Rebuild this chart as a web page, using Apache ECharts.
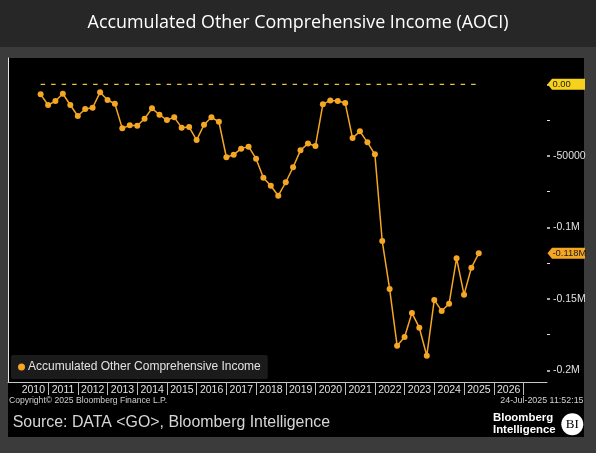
<!DOCTYPE html>
<html>
<head>
<meta charset="utf-8">
<script src="https://cdn.jsdelivr.net/npm/echarts@6/dist/echarts.min.js"></script>
<style>
html,body{margin:0;padding:0;background:#3b3b3b;}
#chart{width:596px;height:453px;}
</style>
</head>
<body>
<div id="chart"></div>
<script>
// ---- data ----
const titleText = 'Accumulated Other Comprehensive Income (AOCI)';
const seriesName = 'Accumulated Other Comprehensive Income';
const quarters = [
  '2010-09-30','2010-12-31',
  '2011-03-31','2011-06-30','2011-09-30','2011-12-31',
  '2012-03-31','2012-06-30','2012-09-30','2012-12-31',
  '2013-03-31','2013-06-30','2013-09-30','2013-12-31',
  '2014-03-31','2014-06-30','2014-09-30','2014-12-31',
  '2015-03-31','2015-06-30','2015-09-30','2015-12-31',
  '2016-03-31','2016-06-30','2016-09-30','2016-12-31',
  '2017-03-31','2017-06-30','2017-09-30','2017-12-31',
  '2018-03-31','2018-06-30','2018-09-30','2018-12-31',
  '2019-03-31','2019-06-30','2019-09-30','2019-12-31',
  '2020-03-31','2020-06-30','2020-09-30','2020-12-31',
  '2021-03-31','2021-06-30','2021-09-30','2021-12-31',
  '2022-03-31','2022-06-30','2022-09-30','2022-12-31',
  '2023-03-31','2023-06-30','2023-09-30','2023-12-31',
  '2024-03-31','2024-06-30','2024-09-30','2024-12-31',
  '2025-03-31','2025-06-30'
];
const aoci = [
  -7000,-14500,-11700,-6600,-14500,-22200,-17300,-16400,-5600,-11000,
  -13600,-30800,-28700,-29000,-24100,-16800,-21300,-25000,-23100,-30300,
  -29900,-39000,-28300,-23100,-26200,-51000,-49200,-45000,-43600,-52000,
  -65300,-70900,-77900,-68500,-58000,-46200,-41400,-43100,-14000,-11300,
  -11700,-13100,-37600,-32900,-40600,-49000,-109600,-143100,-182800,-176700,
  -159900,-170200,-189800,-150800,-158500,-153400,-121700,-147100,-128300,-118200
];
const zeroLevel = 0;
const yearLabels = ['2010','2011','2012','2013','2014','2015','2016','2017','2018',
  '2019','2020','2021','2022','2023','2024','2025','2026'];
const yMin = -200000, yMax = 0, yStep = 50000;
const yTickLabels = {'0':'', '-50000':'-50000', '-100000':'-0.1M', '-150000':'-0.15M', '-200000':'-0.2M'};
const copyrightText = 'Copyright\u00A9 2025 Bloomberg Finance L.P.';
const stampText = '24-Jul-2025 11:52:15';
const sourceText = 'Source: DATA <GO>, Bloomberg Intelligence';

// ---- layout ----
const W = 596, H = 453;
const plotL = 8, plotR = 547, frameTop = 58, frameBot = 382;
const yTopPx = 84.3, yBotPx = 370.3;
const yrL = 18.5, yrR = 523.5; // 2010-01-01 .. 2027-01-01
const pxPerYear = (yrR - yrL) / 17;
const YEAR = 365.25 * 864e5;
const xMin = Date.UTC(2010,0,1) - (yrL - plotL) / pxPerYear * YEAR;
const xMax = Date.UTC(2027,0,1) + (plotR - yrR) / pxPerYear * YEAR;

const LINE = '#f5a623', ZERO = '#e9c43a', TAG0 = '#f7d21c';
const axisFont = "'Liberation Sans Narrow','Arial Narrow','Liberation Sans',sans-serif";

const chart = echarts.init(document.getElementById('chart'), null, {renderer:'canvas'});
const mainData = quarters.map((q,i) => [q, aoci[i]]);
const zeroData = [[quarters[0], zeroLevel], [quarters[quarters.length-1], zeroLevel]];

chart.setOption({
  backgroundColor: '#3b3b3b',
  animation: false,
  title: {
    text: titleText, left: 'center', top: 9,
    textStyle: {color:'#ffffff', fontSize: 17.9, fontWeight: 'normal', fontFamily: "'Open Sans',sans-serif"}
  },
  legend: {
    data: [seriesName], left: 11, top: 355, orient: 'horizontal',
    icon: 'circle', itemWidth: 7, itemHeight: 7, itemGap: 0,
    padding: [6, 7, 6, 7], backgroundColor: '#1b1b1b', borderRadius: 2,
    textStyle: {color:'#e2e2e2', fontSize: 12, fontFamily: "'Liberation Sans',sans-serif", padding:[0,0,0,-2]}
  },
  grid: [
    {left: plotL, right: W - plotR, top: yTopPx, bottom: H - yBotPx},
    {left: plotL, right: W - plotR, top: frameTop, bottom: H - frameBot},
    {left: yrL, right: W - yrR, top: frameTop, bottom: H - frameBot}
  ],
  xAxis: [
    {gridIndex:0, type:'time', min:xMin, max:xMax, show:false},
    {gridIndex:1, type:'value', min:0, max:1, axisLine:{show:true, lineStyle:{color:'#c8c8c8', width:1}},
     axisTick:{show:false}, axisLabel:{show:false}, splitLine:{show:false}},
    {gridIndex:2, type:'category', data: yearLabels, boundaryGap:true,
     axisLine:{show:false},
     axisTick:{show:true, length:13, lineStyle:{color:'#bdbdbd', width:1}, interval: function(i){ return i !== 0; }},
     axisLabel:{color:'#e0e0e0', fontSize:10.5, margin:3, fontFamily: axisFont, interval:0},
     splitLine:{show:false}}
  ],
  yAxis: [
    {gridIndex:0, type:'value', position:'right', min:yMin, max:yMax, interval:yStep,
     axisLine:{show:false},
     axisTick:{show:true, length:3, lineStyle:{color:'#e0e0e0', width:1.5}},
     minorTick:{show:true, splitNumber:2, length:3, lineStyle:{color:'#e0e0e0', width:1}},
     axisLabel:{color:'#e0e0e0', fontSize:10.5, margin:6, fontFamily: axisFont,
       formatter: v => (yTickLabels[String(v)] !== undefined ? yTickLabels[String(v)] : '')},
     splitLine:{show:false}},
    {gridIndex:1, type:'value', position:'right', min:0, max:1,
     axisLine:{show:true, lineStyle:{color:'#e6e6e6', width:1}},
     axisTick:{show:false}, axisLabel:{show:false}, splitLine:{show:false}},
    {gridIndex:2, type:'value', show:false}
  ],
  series: [
    {name: seriesName, type:'line', xAxisIndex:0, yAxisIndex:0, data: mainData,
     symbol:'circle', symbolSize:6, showSymbol:true, color: LINE,
     lineStyle:{color:LINE, width:1.5}, itemStyle:{color:LINE}, z:4},
    {name:'zero', type:'line', xAxisIndex:0, yAxisIndex:0, data: zeroData,
     symbol:'none', lineStyle:{color:ZERO, width:1.4, type:[4.5,6]}, z:3, silent:true}
  ]
});

// ---- decorations positioned from the chart's own scales ----
function tag(v, text, fill) {
  const y = chart.convertToPixel({yAxisIndex:0}, v);
  const x0 = plotR + 0.5, x1 = plotR + 5, x2 = 585, h = 5.5;
  return [
    {type:'polygon', z:50, shape:{points:[[x0,y],[x1,y-h],[x2,y-h],[x2,y+h],[x1,y+h]]}, style:{fill:fill}},
    {type:'text', z:51, x:x1+0.5, y:y, style:{text:text, fill:'#1a1a1a', fontSize:9.4,
      fontFamily: axisFont, verticalAlign:'middle', align:'left'}}
  ];
}
const last = aoci[aoci.length-1];
const lastText = (last/1e6).toFixed(3) + 'M';

chart.setOption({
  graphic: [
    {type:'rect', z:-10, shape:{x:0,y:0,width:W,height:47}, style:{fill:'#272727'}},
    {type:'rect', z:-10, shape:{x:8,y:58,width:576,height:379}, style:{fill:'#000000'}},
    {type:'text', z:5, x:9, y:400.7, style:{text:copyrightText, fill:'#d0d0d0', fontSize:8.6,
      fontFamily:"'Liberation Sans',sans-serif", verticalAlign:'middle'}},
    {type:'text', z:5, x:583.5, y:400.7, style:{text:stampText, fill:'#d0d0d0', fontSize:8.9,
      fontFamily:"'Liberation Sans',sans-serif", verticalAlign:'middle', align:'right'}},
    {type:'text', z:5, x:12.7, y:422.5, style:{text:sourceText, fill:'#d6d6d6', fontSize:15.9,
      fontFamily:"'Liberation Sans',sans-serif", verticalAlign:'middle'}},
    {type:'text', z:5, x:493, y:417.7, style:{text:'Bloomberg', fill:'#ffffff', fontSize:11.4, fontWeight:'bold',
      fontFamily:"'Liberation Sans',sans-serif", verticalAlign:'middle'}},
    {type:'text', z:5, x:493, y:430, style:{text:'Intelligence', fill:'#ffffff', fontSize:11.4, fontWeight:'bold',
      fontFamily:"'Liberation Sans',sans-serif", verticalAlign:'middle'}},
    {type:'circle', z:5, shape:{cx:572.3, cy:424.2, r:11}, style:{fill:'#ffffff'}},
    {type:'text', z:6, x:572.3, y:424.6, style:{text:'BI', fill:'#000000', fontSize:13,
      fontFamily:"'Liberation Serif','DejaVu Serif',serif", verticalAlign:'middle', align:'center'}}
  ].concat(tag(zeroLevel, '0.00', TAG0), tag(last, lastText, LINE))
});
</script>
</body>
</html>
